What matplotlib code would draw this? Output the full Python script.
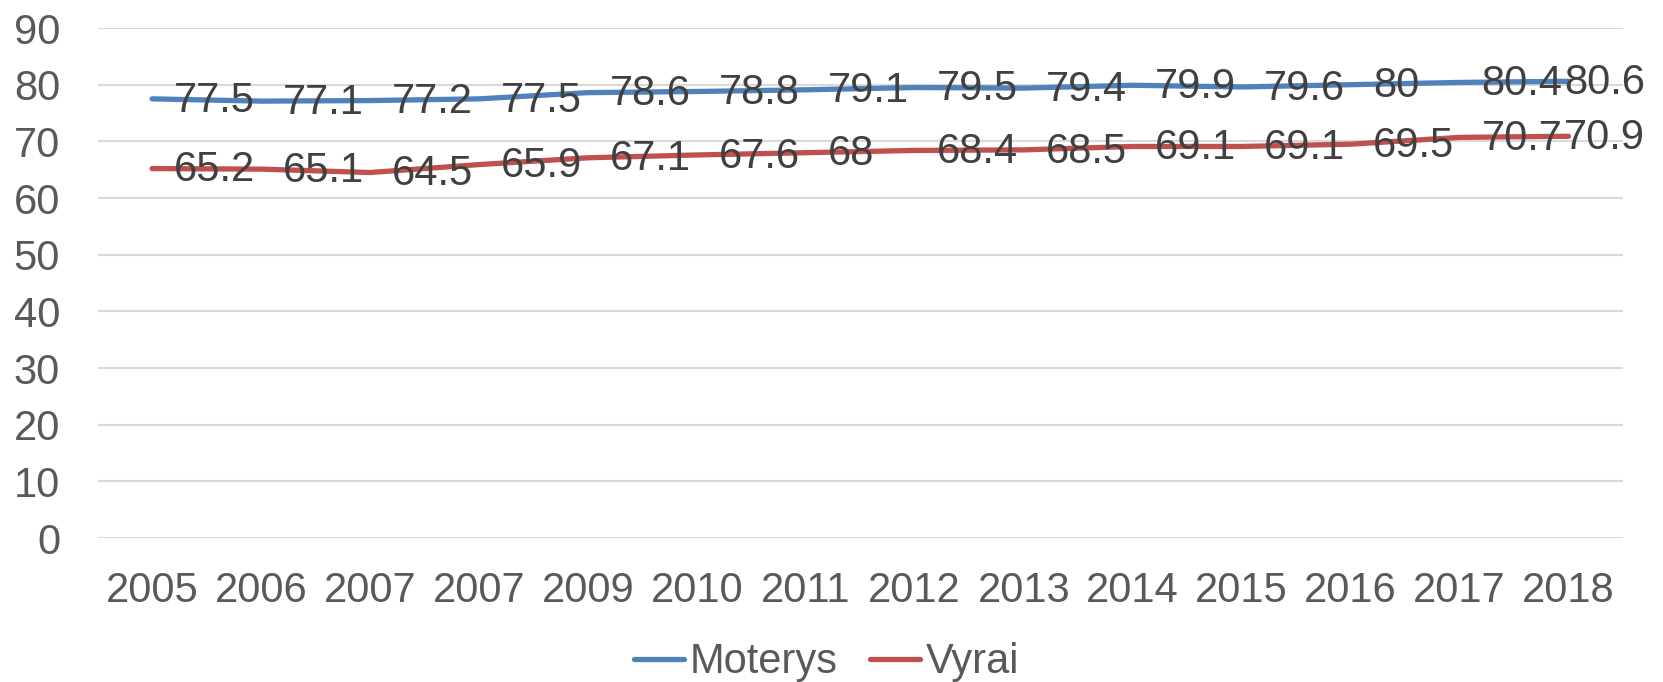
import matplotlib
matplotlib.use("Agg")
import matplotlib.pyplot as plt

# data
years = ['2005', '2006', '2007', '2007', '2009', '2010', '2011',
         '2012', '2013', '2014', '2015', '2016', '2017', '2018']
moterys = [77.5, 77.1, 77.2, 77.5, 78.6, 78.8, 79.1, 79.5, 79.4, 79.9, 79.6, 80, 80.4, 80.6]
vyrai = [65.2, 65.1, 64.5, 65.9, 67.1, 67.6, 68, 68.4, 68.5, 69.1, 69.1, 69.5, 70.7, 70.9]

plt.rcParams['font.family'] = ['Liberation Sans', 'DejaVu Sans']

fig = plt.figure(figsize=(16.63, 6.82), dpi=100)
ax = fig.add_axes([0.0587, 0.2111, 0.9172, 0.7478])

x = list(range(len(years)))
ax.plot(x, moterys, color='#4F81BD', lw=3.8, solid_capstyle='round', label='Moterys')
ax.plot(x, vyrai, color='#C0504D', lw=3.8, solid_capstyle='round', label='Vyrai')

# data labels to the right of each point (the last one is pushed back inside)
for series in (moterys, vyrai):
    for xi, v in zip(x, series):
        dx = -3 if xi == x[-1] else 16
        ax.annotate(f"{v:g}", (xi, v), xytext=(dx, -1.2), textcoords='offset points',
                    ha='left', va='center', fontsize=30, color='#404040')

ax.set_xlim(-0.5, len(years) - 0.5)
ax.set_ylim(0, 90)
ax.set_yticks(range(0, 91, 10))
ax.set_xticks(x)
ax.set_xticklabels(years)
ax.tick_params(axis='both', length=0, labelsize=30, labelcolor='#595959')
ax.tick_params(axis='y', pad=27)
ax.tick_params(axis='x', pad=24)
ax.grid(axis='y', color='#D9D9D9', lw=1.5)
ax.set_axisbelow(True)
for s in ax.spines.values():
    s.set_visible(False)

fig.legend(loc='center', bbox_to_anchor=(0.497, 0.029), ncol=2, frameon=False,
           fontsize=30, labelcolor='#595959', handlelength=1.2, handletextpad=0.12,
           columnspacing=0.8, borderpad=0, borderaxespad=0)

fig.savefig('out.png', dpi=100)
